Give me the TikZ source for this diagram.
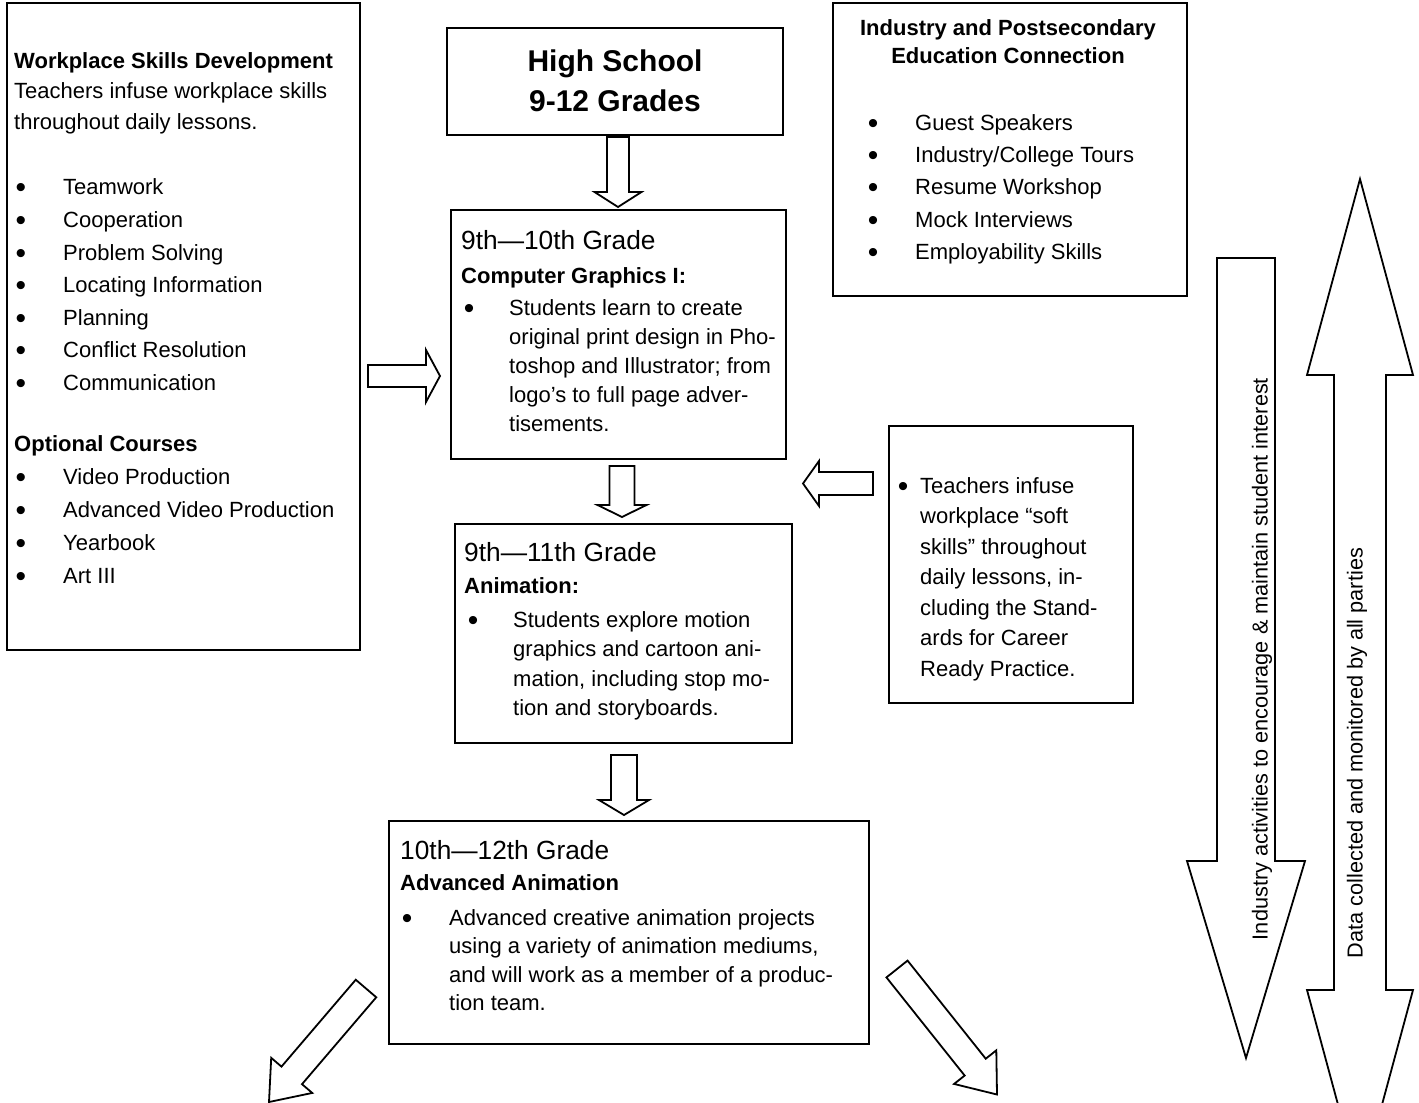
\documentclass[tikz,border=0pt]{standalone}
\usepackage{fontspec}
\setmainfont{Liberation Sans}
\usetikzlibrary{calc}
\tikzset{
  box/.style={draw, line width=2.8pt, inner sep=0pt},
  blk/.style={draw, line width=1.8pt, line join=miter, fill=white},
  tb/.style={anchor=base west, inner sep=0pt, font=\fontsize{22}{26}\selectfont},
  tbb/.style={anchor=base west, inner sep=0pt, font=\fontsize{22}{26}\selectfont\bfseries},
  tg/.style={anchor=base west, inner sep=0pt, font=\fontsize{26.3}{31}\selectfont},
  bul/.style={anchor=base, inner sep=0pt, font=\fontsize{30}{30}\selectfont},
  vt/.style={rotate=90, inner sep=0pt, font=\fontsize{21.7}{26}\selectfont},
}
\newcommand\bdot{\raisebox{-3pt}{\textbullet}}
\newcommand\blockarrow[5]{%
  \coordinate (bah) at ($(#2)!#5!(#1)$);
  \draw[blk] ($(#1)!#3!90:(#2)$) -- ($(bah)!#3!90:(#2)$) -- ($(bah)!#4!90:(#2)$) -- (#2)
    -- ($(bah)!#4!-90:(#2)$) -- ($(bah)!#3!-90:(#2)$) -- ($(#1)!#3!-90:(#2)$) -- cycle;}
\begin{document}
\begin{tikzpicture}[x=1pt,y=-1pt]
\useasboundingbox (0,0) rectangle (1419,1103);
\clip (0,0) rectangle (1419,1103);
\fill[white] (0,0) rectangle (1419,1103);

% boxes
\node[box, minimum width=353pt, minimum height=647pt] (lbox) at (183.5,326.5) {};
\node[box, minimum width=336pt, minimum height=107pt] (hs) at (615,81.5) {};
\node[box, minimum width=335pt, minimum height=249pt] (cg) at (618.5,334.5) {};
\node[box, minimum width=354pt, minimum height=293pt] (ind) at (1010,149.5) {};
\node[box, minimum width=244pt, minimum height=277pt] (soft) at (1011,564.5) {};
\node[box, minimum width=337pt, minimum height=219pt] (anim) at (623.5,633.5) {};
\node[box, minimum width=480pt, minimum height=223pt] (adv) at (629,932.5) {};

% block arrows
\coordinate (a1s) at (618,137);  \coordinate (a1e) at (618,207);
\blockarrow{a1s}{a1e}{11pt}{23.5pt}{15pt}
\coordinate (a2s) at (368,376);  \coordinate (a2e) at (440,376);
\blockarrow{a2s}{a2e}{11pt}{26pt}{14pt}
\coordinate (a3s) at (622,466);  \coordinate (a3e) at (622,517);
\blockarrow{a3s}{a3e}{12.5pt}{24.5pt}{12pt}
\coordinate (a4s) at (873,483.5); \coordinate (a4e) at (803,483.5);
\blockarrow{a4s}{a4e}{11.5pt}{22.5pt}{16pt}
\coordinate (a5s) at (624,755);  \coordinate (a5e) at (624,815);
\blockarrow{a5s}{a5e}{13pt}{25pt}{15pt}
\coordinate (a6s) at (366,988.5); \coordinate (a6e) at (269,1102);
\blockarrow{a6s}{a6e}{13.5pt}{27pt}{35pt}
\coordinate (a7s) at (897,969);  \coordinate (a7e) at (997,1094.5);
\blockarrow{a7s}{a7e}{13.5pt}{27pt}{35pt}
\coordinate (ias) at (1246,258); \coordinate (iae) at (1246,1058);
\blockarrow{ias}{iae}{29pt}{59pt}{197pt}
\coordinate (dtop) at (1360,179); \coordinate (dbot) at (1360,1186);
\draw[blk] (dtop) -- (1413,375) -- (1386,375) -- (1386,990) -- (1413,990) -- (dbot)
  -- (1307,990) -- (1334,990) -- (1334,375) -- (1307,375) -- cycle;

% rotated labels
\node[vt] (indtxt) at (1262,659) {Industry activities to encourage \& maintain student interest};
\node[vt] (dattxt) at (1357,753) {Data collected and monitored by all parties};

% High school
\node[anchor=base, inner sep=0pt, font=\fontsize{30}{36}\selectfont\bfseries] (hs1) at (615,71) {High School};
\node[anchor=base, inner sep=0pt, font=\fontsize{30}{36}\selectfont\bfseries] (hs2) at (615,111) {9-12 Grades};

% left box
\node[tbb] (l1) at (14,68) {Workplace Skills Development};
\node[tb] (l2) at (14,98) {Teachers infuse workplace skills};
\node[tb] (l3) at (14,129) {throughout daily lessons.};
\node[bul] (lb1) at (21,194) {\bdot}; \node[tb] (l4) at (63,194) {Teamwork};
\node[bul] (lb2) at (21,227) {\bdot}; \node[tb] (l5) at (63,227) {Cooperation};
\node[bul] (lb3) at (21,260) {\bdot}; \node[tb] (l6) at (63,260) {Problem Solving};
\node[bul] (lb4) at (21,292) {\bdot}; \node[tb] (l7) at (63,292) {Locating Information};
\node[bul] (lb5) at (21,325) {\bdot}; \node[tb] (l8) at (63,325) {Planning};
\node[bul] (lb6) at (21,357) {\bdot}; \node[tb] (l9) at (63,357) {Conflict Resolution};
\node[bul] (lb7) at (21,390) {\bdot}; \node[tb] (l10) at (63,390) {Communication};
\node[tbb] (l11) at (14,451) {Optional Courses};
\node[bul] (lb8) at (21,484) {\bdot}; \node[tb] (l12) at (63,484) {Video Production};
\node[bul] (lb9) at (21,517) {\bdot}; \node[tb] (l13) at (63,517) {Advanced Video Production};
\node[bul] (lb10) at (21,550) {\bdot}; \node[tb] (l14) at (63,550) {Yearbook};
\node[bul] (lb11) at (21,583) {\bdot}; \node[tb] (l15) at (63,583) {Art III};

% industry box
\node[anchor=base, inner sep=0pt, font=\fontsize{22}{26}\selectfont\bfseries] (i1) at (1008,35) {Industry and Postsecondary};
\node[anchor=base, inner sep=0pt, font=\fontsize{22}{26}\selectfont\bfseries] (i2) at (1008,63) {Education Connection};
\node[bul] (ib1) at (873,130) {\bdot}; \node[tb] (i3) at (915,130) {Guest Speakers};
\node[bul] (ib2) at (873,162) {\bdot}; \node[tb] (i4) at (915,162) {Industry/College Tours};
\node[bul] (ib3) at (873,194) {\bdot}; \node[tb] (i5) at (915,194) {Resume Workshop};
\node[bul] (ib4) at (873,227) {\bdot}; \node[tb] (i6) at (915,227) {Mock Interviews};
\node[bul] (ib5) at (873,259) {\bdot}; \node[tb] (i7) at (915,259) {Employability Skills};

% computer graphics box
\node[tg] (c1) at (461,249.5) {9th—10th Grade};
\node[tbb] (c2) at (461,283) {Computer Graphics I:};
\node[bul] (cb1) at (469,315) {\bdot};
\node[tb] (c3) at (509,315) {Students learn to create};
\node[tb] (c4) at (509,344) {original print design in Pho-};
\node[tb] (c5) at (509,373) {toshop and Illustrator; from};
\node[tb] (c6) at (509,402) {logo’s to full page adver-};
\node[tb] (c7) at (509,431) {tisements.};

% soft skills box
\node[bul] (sb1) at (903,493) {\bdot};
\node[tb] (s1) at (920,493) {Teachers infuse};
\node[tb] (s2) at (920,523.5) {workplace “soft};
\node[tb] (s3) at (920,554) {skills” throughout};
\node[tb] (s4) at (920,584.5) {daily lessons, in-};
\node[tb] (s5) at (920,615) {cluding the Stand-};
\node[tb] (s6) at (920,645.5) {ards for Career};
\node[tb] (s7) at (920,676) {Ready Practice.};

% animation box
\node[tg] (n1) at (464,561.5) {9th—11th Grade};
\node[tbb] (n2) at (464,593) {Animation:};
\node[bul] (nb1) at (473,627) {\bdot};
\node[tb] (n3) at (513,627) {Students explore motion};
\node[tb] (n4) at (513,656.5) {graphics and cartoon ani-};
\node[tb] (n5) at (513,686) {mation, including stop mo-};
\node[tb] (n6) at (513,715.5) {tion and storyboards.};

% advanced animation box
\node[tg] (v1) at (400,859.5) {10th—12th Grade};
\node[tbb] (v2) at (400,890) {Advanced Animation};
\node[bul] (vb1) at (407,925) {\bdot};
\node[tb] (v3) at (449,925) {Advanced creative animation projects};
\node[tb] (v4) at (449,953.5) {using a variety of animation mediums,};
\node[tb] (v5) at (449,982) {and will work as a member of a produc-};
\node[tb] (v6) at (449,1010.5) {tion team.};
\end{tikzpicture}
\end{document}
